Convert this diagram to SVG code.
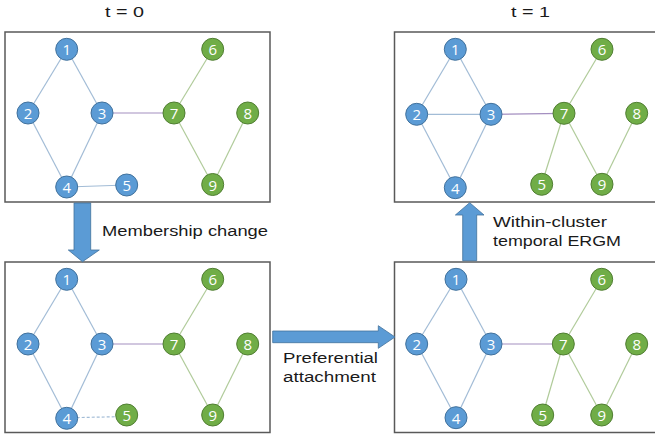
<svg xmlns="http://www.w3.org/2000/svg" width="655" height="436" viewBox="0 0 655 436">
<defs>
<style>
.panel{fill:#fff;stroke:#595959;stroke-width:1.5}
.nb circle{fill:#5B9BD5;stroke:#41719C;stroke-width:1}
.ng circle{fill:#70AD47;stroke:#507E32;stroke-width:1}
.node text{fill:#fff;font-family:"Open Sans","Liberation Sans",sans-serif;font-size:15px;text-anchor:middle;dominant-baseline:central}
.eb{stroke:#A2BCD6;stroke-width:1.2;fill:none}
.eg{stroke:#B0CB9A;stroke-width:1.2;fill:none}
.ep{stroke:#A48FC0;stroke-width:1.2;fill:none}
.ed{stroke:#A2BCD6;stroke-width:1.2;stroke-dasharray:3,2;fill:none}
.big{fill:#5B9BD5;stroke:#41719C;stroke-width:0.8}
.lbl{font-family:"Liberation Sans",Arial,sans-serif;font-size:15.5px;fill:#1a1a1a}
</style>
</defs>
<text class="lbl" x="105" y="17" textLength="39" lengthAdjust="spacingAndGlyphs" font-size="17">t = 0</text>
<text class="lbl" x="511" y="17" textLength="39" lengthAdjust="spacingAndGlyphs" font-size="17">t = 1</text>
<rect class="panel" x="5" y="32" width="265" height="170"/>
<rect class="panel" x="394.5" y="32" width="270" height="170"/>
<rect class="panel" x="5" y="262" width="265" height="170.5"/>
<rect class="panel" x="394.5" y="262" width="270" height="170.5"/>
<g id="connectors">
<line class="eb" x1="66.7" y1="49.3" x2="28" y2="113"/>
<line class="eb" x1="66.7" y1="49.3" x2="102" y2="113"/>
<line class="eb" x1="28" y1="113" x2="66.7" y2="187"/>
<line class="eb" x1="102" y1="113" x2="66.7" y2="187"/>
<line class="eb" x1="66.7" y1="187" x2="126.7" y2="185"/>
<line class="ep" x1="102" y1="113" x2="174" y2="113"/>
<line class="eg" x1="212.7" y1="49.3" x2="174" y2="113"/>
<line class="eg" x1="174" y1="113" x2="212.7" y2="184.5"/>
<line class="eg" x1="247.7" y1="113" x2="212.7" y2="184.5"/>
<line class="eb" x1="455.3" y1="49.3" x2="416.7" y2="114.3"/>
<line class="eb" x1="455.3" y1="49.3" x2="491" y2="114.3"/>
<line class="eb" x1="416.7" y1="114.3" x2="491" y2="114.3"/>
<line class="eb" x1="416.7" y1="114.3" x2="455.3" y2="187.7"/>
<line class="eb" x1="491" y1="114.3" x2="455.3" y2="187.7"/>
<line class="ep" x1="491" y1="114.3" x2="564" y2="113.3"/>
<line class="eg" x1="602" y1="49.3" x2="564" y2="113.3"/>
<line class="eg" x1="564" y1="113.3" x2="541.7" y2="184.3"/>
<line class="eg" x1="564" y1="113.3" x2="602" y2="184.3"/>
<line class="eg" x1="636.7" y1="113.3" x2="602" y2="184.3"/>
<line class="eb" x1="66.7" y1="279.3" x2="28" y2="344"/>
<line class="eb" x1="66.7" y1="279.3" x2="102" y2="344"/>
<line class="eb" x1="28" y1="344" x2="66.7" y2="418.3"/>
<line class="eb" x1="102" y1="344" x2="66.7" y2="418.3"/>
<line class="ed" x1="66.7" y1="417.8" x2="126.7" y2="416.5"/>
<line class="ep" x1="102" y1="344" x2="174" y2="344"/>
<line class="eg" x1="212.7" y1="279.3" x2="174" y2="344"/>
<line class="eg" x1="174" y1="344" x2="212.7" y2="415"/>
<line class="eg" x1="247.7" y1="344" x2="212.7" y2="415"/>
<line class="eb" x1="456" y1="279.3" x2="416.7" y2="344"/>
<line class="eb" x1="456" y1="279.3" x2="491" y2="344"/>
<line class="eb" x1="416.7" y1="344" x2="456" y2="417.7"/>
<line class="eb" x1="491" y1="344" x2="456" y2="417.7"/>
<line class="ep" x1="491" y1="344" x2="563.3" y2="344"/>
<line class="eg" x1="601.7" y1="279.3" x2="563.3" y2="344"/>
<line class="eg" x1="563.3" y1="344" x2="542.7" y2="415"/>
<line class="eg" x1="563.3" y1="344" x2="601.7" y2="415"/>
<line class="eg" x1="636.7" y1="344" x2="601.7" y2="415"/>
<polygon class="big" points="74,203 90.7,203 90.7,250 99.3,250 82.5,261.7 68.3,250 74,250"/>
<polygon class="big" points="272.7,331 378.3,331 378.3,325.7 395,337 378.3,348.3 378.3,342.7 272.7,342.7"/>
<polygon class="big" points="462.7,260.7 476.7,260.7 476.7,215 484,215 469.7,202.7 455.4,215 462.7,215"/>
</g>
<text class="lbl" x="102" y="236" textLength="166" lengthAdjust="spacingAndGlyphs">Membership change</text>
<text class="lbl" x="283" y="363" textLength="95" lengthAdjust="spacingAndGlyphs">Preferential</text>
<text class="lbl" x="283" y="381.5" textLength="93" lengthAdjust="spacingAndGlyphs">attachment</text>
<text class="lbl" x="493" y="227" textLength="114" lengthAdjust="spacingAndGlyphs">Within-cluster</text>
<text class="lbl" x="493" y="246" textLength="128" lengthAdjust="spacingAndGlyphs">temporal ERGM</text>
<g id="p1n1" class="node nb"><circle cx="66.7" cy="49.3" r="11"/><text x="66.7" y="49.3">1</text></g>
<g id="p1n2" class="node nb"><circle cx="28" cy="113" r="11"/><text x="28" y="113">2</text></g>
<g id="p1n3" class="node nb"><circle cx="102" cy="113" r="11"/><text x="102" y="113">3</text></g>
<g id="p1n4" class="node nb"><circle cx="66.7" cy="187" r="11"/><text x="66.7" y="187">4</text></g>
<g id="p1n5" class="node nb"><circle cx="126.7" cy="185" r="11"/><text x="126.7" y="185">5</text></g>
<g id="p1n6" class="node ng"><circle cx="212.7" cy="49.3" r="11"/><text x="212.7" y="49.3">6</text></g>
<g id="p1n7" class="node ng"><circle cx="174" cy="113" r="11"/><text x="174" y="113">7</text></g>
<g id="p1n8" class="node ng"><circle cx="247.7" cy="113" r="11"/><text x="247.7" y="113">8</text></g>
<g id="p1n9" class="node ng"><circle cx="212.7" cy="184.5" r="11"/><text x="212.7" y="184.5">9</text></g>
<g id="p2n1" class="node nb"><circle cx="455.3" cy="49.3" r="11"/><text x="455.3" y="49.3">1</text></g>
<g id="p2n2" class="node nb"><circle cx="416.7" cy="114.3" r="11"/><text x="416.7" y="114.3">2</text></g>
<g id="p2n3" class="node nb"><circle cx="491" cy="114.3" r="11"/><text x="491" y="114.3">3</text></g>
<g id="p2n4" class="node nb"><circle cx="455.3" cy="187.7" r="11"/><text x="455.3" y="187.7">4</text></g>
<g id="p2n5" class="node ng"><circle cx="541.7" cy="184.3" r="11"/><text x="541.7" y="184.3">5</text></g>
<g id="p2n6" class="node ng"><circle cx="602" cy="49.3" r="11"/><text x="602" y="49.3">6</text></g>
<g id="p2n7" class="node ng"><circle cx="564" cy="113.3" r="11"/><text x="564" y="113.3">7</text></g>
<g id="p2n8" class="node ng"><circle cx="636.7" cy="113.3" r="11"/><text x="636.7" y="113.3">8</text></g>
<g id="p2n9" class="node ng"><circle cx="602" cy="184.3" r="11"/><text x="602" y="184.3">9</text></g>
<g id="p3n1" class="node nb"><circle cx="66.7" cy="279.3" r="11"/><text x="66.7" y="279.3">1</text></g>
<g id="p3n2" class="node nb"><circle cx="28" cy="344" r="11"/><text x="28" y="344">2</text></g>
<g id="p3n3" class="node nb"><circle cx="102" cy="344" r="11"/><text x="102" y="344">3</text></g>
<g id="p3n4" class="node nb"><circle cx="66.7" cy="418.3" r="11"/><text x="66.7" y="418.3">4</text></g>
<g id="p3n5" class="node ng"><circle cx="126.7" cy="415" r="11"/><text x="126.7" y="415">5</text></g>
<g id="p3n6" class="node ng"><circle cx="212.7" cy="279.3" r="11"/><text x="212.7" y="279.3">6</text></g>
<g id="p3n7" class="node ng"><circle cx="174" cy="344" r="11"/><text x="174" y="344">7</text></g>
<g id="p3n8" class="node ng"><circle cx="247.7" cy="344" r="11"/><text x="247.7" y="344">8</text></g>
<g id="p3n9" class="node ng"><circle cx="212.7" cy="415" r="11"/><text x="212.7" y="415">9</text></g>
<g id="p4n1" class="node nb"><circle cx="456" cy="279.3" r="11"/><text x="456" y="279.3">1</text></g>
<g id="p4n2" class="node nb"><circle cx="416.7" cy="344" r="11"/><text x="416.7" y="344">2</text></g>
<g id="p4n3" class="node nb"><circle cx="491" cy="344" r="11"/><text x="491" y="344">3</text></g>
<g id="p4n4" class="node nb"><circle cx="456" cy="417.7" r="11"/><text x="456" y="417.7">4</text></g>
<g id="p4n5" class="node ng"><circle cx="542.7" cy="415" r="11"/><text x="542.7" y="415">5</text></g>
<g id="p4n6" class="node ng"><circle cx="601.7" cy="279.3" r="11"/><text x="601.7" y="279.3">6</text></g>
<g id="p4n7" class="node ng"><circle cx="563.3" cy="344" r="11"/><text x="563.3" y="344">7</text></g>
<g id="p4n8" class="node ng"><circle cx="636.7" cy="344" r="11"/><text x="636.7" y="344">8</text></g>
<g id="p4n9" class="node ng"><circle cx="601.7" cy="415" r="11"/><text x="601.7" y="415">9</text></g>
</svg>
